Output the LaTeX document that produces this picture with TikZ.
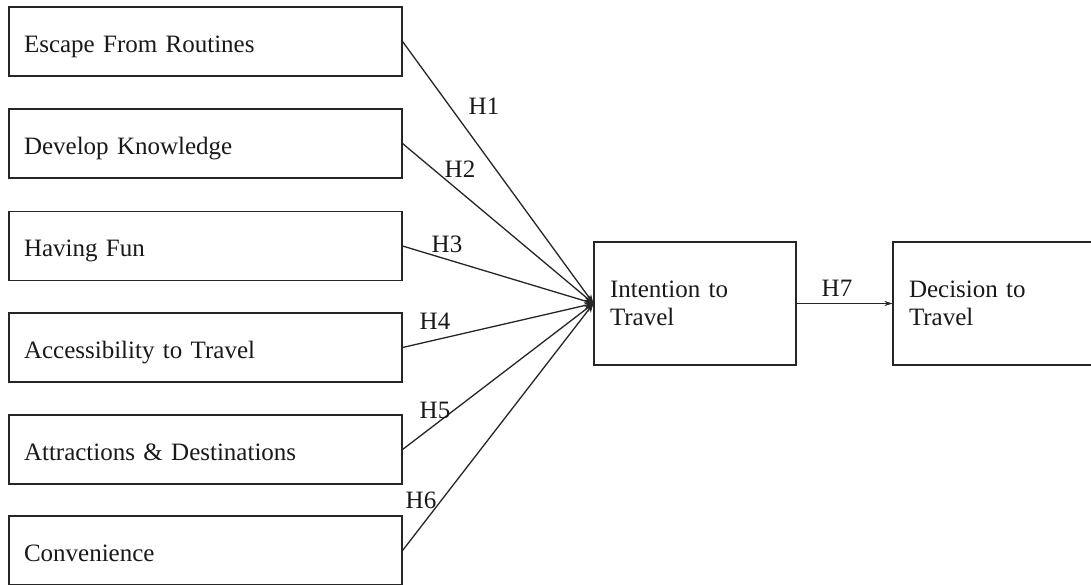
\documentclass[tikz,border=0pt]{standalone}
\usepackage{fontspec}
\setmainfont{Liberation Serif}
\usetikzlibrary{arrows.meta}
\begin{document}
\begin{tikzpicture}[x=1pt,y=-1pt,
  box/.style={draw=black!85,line width=1.1pt,rectangle,inner xsep=15pt,inner ysep=0pt,
    align=left,font=\fontsize{25}{28}\selectfont,text=black!90},
  leftbox/.style={box,minimum width=393pt,minimum height=69pt,text width=363pt,text height=21pt,text depth=0pt},
  link/.style={draw=black!85,line width=1.3pt,-{Stealth[length=9pt,width=7pt]}},
  lab/.style={inner sep=0pt,font=\fontsize{25}{28}\selectfont,text=black!90}]
\useasboundingbox (0,0) rectangle (1091,584);
\clip (0,0) rectangle (1091,584);
\fill[white] (0,0) rectangle (1091,584);
\node[leftbox] (b1) at (205.5,41.5) {Escape From Routines};
\node[leftbox] (b2) at (205.5,143.5) {Develop Knowledge};
\node[leftbox] (b3) at (205.5,246) {Having Fun};
\node[leftbox] (b4) at (205.5,347.5) {Accessibility to Travel};
\node[leftbox] (b5) at (205.5,449.5) {Attractions \& Destinations};
\node[leftbox] (b6) at (205.5,550.5) {Convenience};
\node[box,minimum width=202pt,minimum height=123pt,text width=170pt,inner xsep=16pt] (int) at (695,303.5) {Intention to\\Travel};
\node[box,minimum width=227pt,minimum height=123pt,text width=195pt,inner xsep=16pt] (dec) at (1006.5,303.5) {Decision to\\Travel};
\foreach \i in {1,...,6} { \draw[link] (b\i.east) -- (int.west); }
\draw[link,line width=1.1pt,-{Stealth[length=8pt,width=5pt]}] (int.east) -- (dec.west);
\node[lab] (h1) at (484,106) {H1};
\node[lab] (h2) at (460,169) {H2};
\node[lab] (h3) at (447,244) {H3};
\node[lab] (h4) at (435,321) {H4};
\node[lab] (h5) at (435,410) {H5};
\node[lab] (h6) at (421,500) {H6};
\node[lab] (h7) at (837,288) {H7};
\end{tikzpicture}
\end{document}
